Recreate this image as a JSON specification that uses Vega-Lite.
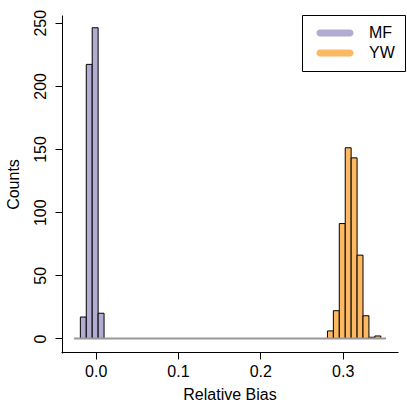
{
  "$schema": "https://vega.github.io/schema/vega-lite/v6.json",
  "width": 337,
  "height": 338,
  "autosize": "none",
  "padding": {"left": 61, "top": 15, "right": 9, "bottom": 54},
  "background": "white",
  "config": {
    "view": {"stroke": null},
    "font": "Liberation Sans",
    "axis": {
      "domain": true, "domainColor": "black", "domainWidth": 1,
      "grid": false, "offset": -1,
      "tickSize": 7, "tickColor": "black", "tickWidth": 1,
      "labelFontSize": 16, "labelColor": "black", "labelFont": "Liberation Sans",
      "titleFontSize": 16, "titleFontWeight": "normal", "titleColor": "black", "titleFont": "Liberation Sans"
    },
    "legend": {
      "orient": "none",
      "legendX": 241,
      "legendY": 0,
      "strokeColor": "black",
      "fillColor": "white",
      "padding": 10,
      "symbolType": "M-4.29,-1H4.29A1,1,0,0,1,4.29,1H-4.29A1,1,0,0,1,-4.29,-1Z",
      "symbolSize": 49,
      "symbolStrokeWidth": 0,
      "symbolOpacity": 1,
      "symbolOffset": 15,
      "labelOffset": 26,
      "labelFontSize": 16,
      "labelColor": "black",
      "labelFont": "Liberation Sans",
      "rowPadding": 4
    }
  },
  "datasets": {
    "bars": [
      {"group": "MF", "start": -0.0186, "end": -0.0114, "count": 17},
      {"group": "MF", "start": -0.0114, "end": -0.0042, "count": 217},
      {"group": "MF", "start": -0.0042, "end": 0.0030, "count": 246},
      {"group": "MF", "start": 0.0030, "end": 0.0102, "count": 20},
      {"group": "YW", "start": 0.2815, "end": 0.2887, "count": 6},
      {"group": "YW", "start": 0.2887, "end": 0.2959, "count": 22},
      {"group": "YW", "start": 0.2959, "end": 0.3031, "count": 91},
      {"group": "YW", "start": 0.3031, "end": 0.3103, "count": 151},
      {"group": "YW", "start": 0.3103, "end": 0.3175, "count": 143},
      {"group": "YW", "start": 0.3175, "end": 0.3247, "count": 66},
      {"group": "YW", "start": 0.3247, "end": 0.3319, "count": 18},
      {"group": "YW", "start": 0.3319, "end": 0.3391, "count": 1},
      {"group": "YW", "start": 0.3391, "end": 0.3463, "count": 2}
    ],
    "base": [{"x0": -0.0264, "x1": 0.3527, "y": 0}]
  },
  "layer": [
    {
      "data": {"name": "bars"},
      "mark": {"type": "rect", "stroke": "black", "strokeWidth": 1, "opacity": 1},
      "encoding": {
        "x": {
          "field": "start", "type": "quantitative",
          "scale": {"domain": [-0.0421, 0.3672], "nice": false, "zero": false},
          "axis": {
            "values": [0, 0.1, 0.2, 0.3], "format": ".1f",
            "labelPadding": 4, "labelFlush": false,
            "title": "Relative Bias", "titlePadding": 7
          }
        },
        "x2": {"field": "end"},
        "y": {
          "field": "count", "type": "quantitative",
          "scale": {"domain": [-11.48, 256.1], "nice": false, "zero": false},
          "axis": {
            "values": [0, 50, 100, 150, 200, 250],
            "labelAngle": 270, "labelAlign": "center", "labelBaseline": "bottom",
            "labelPadding": 7,
            "title": "Counts", "titlePadding": 11
          }
        },
        "y2": {"datum": 0},
        "color": {
          "field": "group", "type": "nominal",
          "scale": {"domain": ["MF", "YW"], "range": ["#b2abd2", "#fdb863"]},
          "legend": {"title": null}
        }
      }
    },
    {
      "data": {"name": "base"},
      "mark": {"type": "rule", "color": "#999999", "strokeWidth": 2},
      "encoding": {
        "x": {"field": "x0", "type": "quantitative"},
        "x2": {"field": "x1"},
        "y": {"field": "y", "type": "quantitative"}
      }
    }
  ]
}
